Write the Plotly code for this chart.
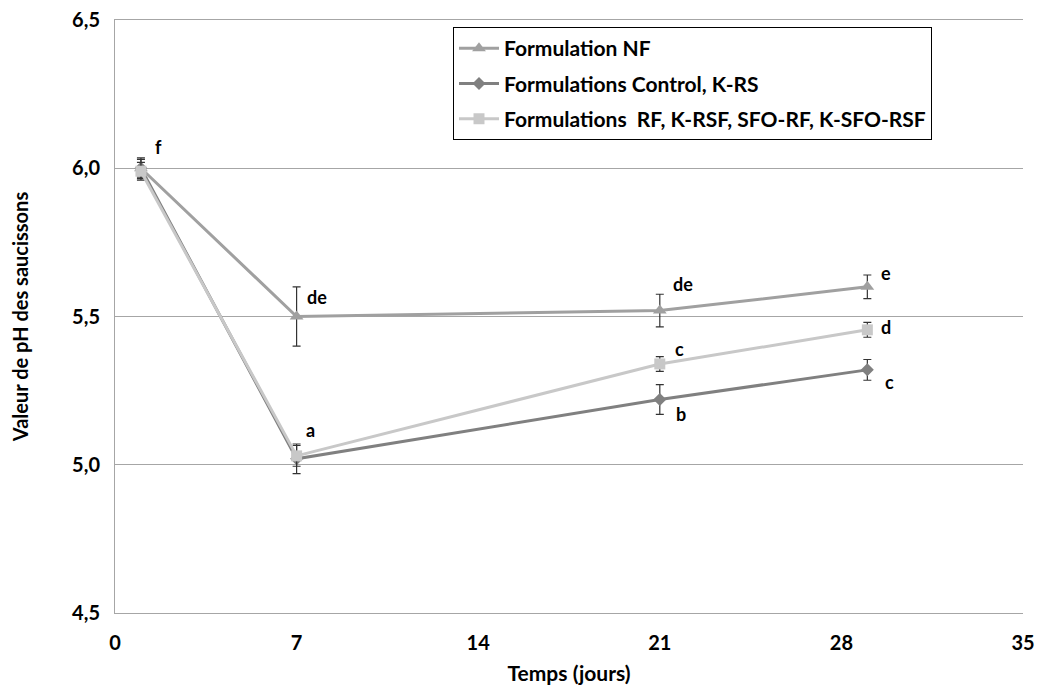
import plotly.graph_objects as go

# ---- data ----
days = [1, 7, 21, 29]
nf_ph = [6.00, 5.50, 5.52, 5.60]
nf_err = [0.035, 0.10, 0.055, 0.04]
ctrl_ph = [6.00, 5.02, 5.22, 5.32]
ctrl_err = [0.03, 0.05, 0.05, 0.035]
rf_ph = [5.99, 5.03, 5.34, 5.455]
rf_err = [0.03, 0.035, 0.025, 0.025]

series_names = [
    "Formulation NF",
    "Formulations Control, K-RS",
    "Formulations  RF, K-RSF, SFO-RF, K-SFO-RSF",
]
x_ticks = [0, 7, 14, 21, 28, 35]
y_ticks = [4.5, 5.0, 5.5, 6.0, 6.5]
sig_letters = ["f", "de", "a", "de", "c", "b", "e", "d", "c"]

FONT = "Lato"
fig = go.Figure()

def err(vals):
    return dict(type="data", array=vals, visible=True, color="#333333",
                thickness=1.2, width=4)

fig.add_trace(go.Scatter(
    x=days, y=nf_ph, name=series_names[0], mode="lines+markers",
    line=dict(color="#A0A0A0", width=3),
    marker=dict(symbol="triangle-up", size=12, color="#A0A0A0"),
    error_y=err(nf_err), legendgroup="a"))
fig.add_trace(go.Scatter(
    x=days, y=ctrl_ph, name=series_names[1], mode="lines+markers",
    line=dict(color="#808080", width=3),
    marker=dict(symbol="diamond", size=10, color="#808080"),
    error_y=err(ctrl_err), legendgroup="b"))
fig.add_trace(go.Scatter(
    x=days, y=rf_ph, name=series_names[2], mode="lines+markers",
    line=dict(color="#C8C8C8", width=3),
    marker=dict(symbol="square", size=11, color="#C8C8C8"),
    error_y=err(rf_err), legendgroup="c"))

label_pos = [
    (1.45, 6.07), (7.32, 5.567), (7.28, 5.118),
    (21.45, 5.608), (21.49, 5.392), (21.56, 5.172),
    (29.46, 5.648), (29.46, 5.466), (29.61, 5.28),
]
for txt, (lx, ly) in zip(sig_letters, label_pos):
    fig.add_annotation(x=lx, y=ly, text="<b>%s</b>" % txt, showarrow=False,
                       xanchor="left", yanchor="middle",
                       font=dict(family=FONT, size=18, color="black"))

fig.update_layout(
    width=1038, height=686,
    margin=dict(l=115, r=15, t=20, b=73),
    plot_bgcolor="white", paper_bgcolor="white",
    separators=", ",
    font=dict(family=FONT, size=16, color="black"),
    legend=dict(x=(453 - 115) / 908, y=1 - (27 - 20) / 593, xanchor="left", yanchor="top",
                bordercolor="black", borderwidth=1, bgcolor="white",
                font=dict(family=FONT, size=21, color="black"),
                tracegroupgap=5, itemwidth=40,
                traceorder="grouped"),
    xaxis=dict(range=[0, 35], tickvals=x_ticks, ticktext=["<b>%d</b>" % v for v in x_ticks],
               showgrid=False, showline=True, mirror=True, linecolor="#A6A6A6", linewidth=1,
               zeroline=False, ticks="", ticklabelstandoff=12, automargin=False,
               ticklabeloverflow="allow",
               tickfont=dict(size=20),
               title=dict(text="<b>Temps (jours)</b>", font=dict(size=21), standoff=13)),
    yaxis=dict(range=[4.5, 6.5], tickvals=y_ticks,
               ticktext=["<b>%s</b>" % ("%.1f" % v).replace(".", ",") for v in y_ticks],
               showgrid=True, gridcolor="#A6A6A6", gridwidth=1,
               showline=True, linecolor="#A6A6A6", linewidth=1,
               zeroline=False, ticks="", ticklabelstandoff=10, automargin=False,
               ticklabeloverflow="allow",
               tickfont=dict(size=20),
               title=dict(text="<b>Valeur de pH des saucissons</b>", font=dict(size=20), standoff=38)),
)
for tr in fig.data:
    tr.name = "<b>%s</b>" % tr.name

fig.write_html("out.html", config={"displayModeBar": False},
               post_script="document.body.style.margin='0';document.body.style.overflow='hidden';")
